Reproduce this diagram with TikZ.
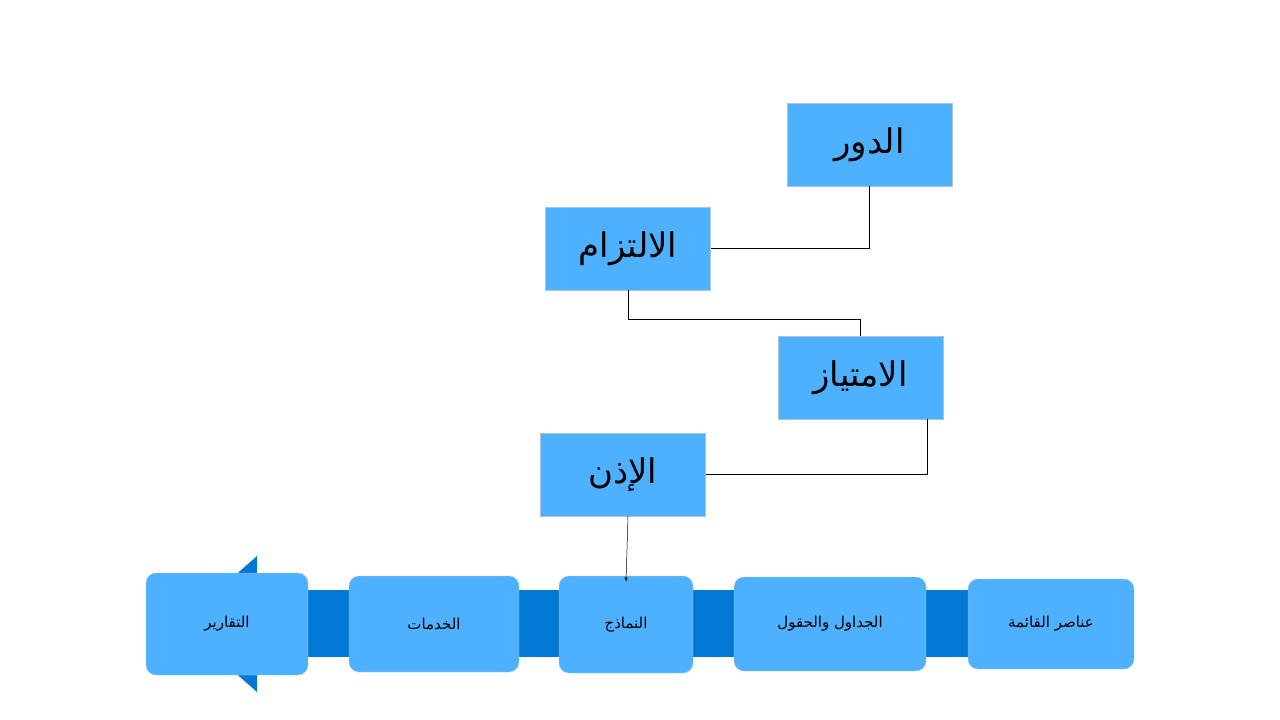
\documentclass[tikz,border=0pt]{standalone}
\usepackage{fontspec}
\newfontfamily\arabicfont[Script=Arabic]{DejaVu Sans}
\TeXXeTstate=1
\definecolor{boxblue}{HTML}{4DB1FF}
\definecolor{bandblue}{HTML}{0078D4}
\definecolor{boxline}{HTML}{A9C4DC}
\tikzset{
  rolebox/.style={draw=boxline, fill=boxblue, minimum width=165, minimum height=83,
    inner sep=0, font=\arabicfont\fontsize{34}{40}\selectfont},
  stepbox/.style={draw=boxline, fill=boxblue, rounded corners=10, inner sep=0,
    font=\arabicfont\fontsize{15}{18}\selectfont},
  link/.style={draw=black, line width=.5}
}
\begin{document}
\begin{tikzpicture}[x=1pt,y=-1pt]
    \useasboundingbox (0,0) rectangle (1280,720);
    % top chain
    \node[rolebox] (dawr) at (869.5,144.5) {\beginR الدور\endR};
    \node[rolebox] (iltizam) at (628,248.5) {\beginR الالتزام\endR};
    \node[rolebox] (imtiyaz) at (860.5,377.5) {\beginR الامتياز\endR};
    \node[rolebox] (idhn) at (623,474.5) {\beginR الإذن\endR};
    \draw[link] (dawr.south) |- (iltizam.east);
    \draw[link] (iltizam.south) -- ++(0,29) -| (imtiyaz.north);
    \draw[link] ([xshift=67]imtiyaz.south) |- (idhn.east);
    % band with arrow
    \fill[bandblue] (250,590) rectangle (1130,657);
    \fill[bandblue] (257,556) -- (257,692) -- (180,624) -- cycle;
    \node[stepbox, minimum width=162, minimum height=102] (reports) at (227,624) {\beginR التقارير\endR};
    \node[stepbox, minimum width=170, minimum height=96] (services) at (434,624) {\beginR الخدمات\endR};
    \node[stepbox, minimum width=134, minimum height=97] (forms) at (626,624.5) {\beginR النماذج\endR};
    \node[stepbox, minimum width=192, minimum height=94] (tables) at (830,624) {\beginR الجداول والحقول\endR};
    \node[stepbox, minimum width=166, minimum height=90] (menu) at (1051,624) {\beginR عناصر القائمة\endR};
    \draw[link, -latex] ([xshift=5]idhn.south) -- ([yshift=-6]forms.north);
\end{tikzpicture}
\end{document}
